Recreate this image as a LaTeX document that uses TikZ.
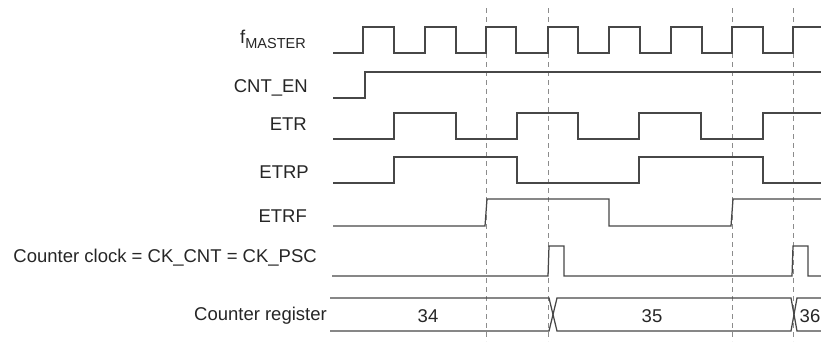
\documentclass[tikz,border=0pt]{standalone}
\usepackage{fontspec}
\setmainfont{Liberation Sans}
\begin{document}
\begin{tikzpicture}[x=1pt,y=-1pt,
  sig/.style={draw=black!72, line width=1.25pt, line join=miter},
  guide/.style={draw=black!45, line width=0.9pt, dash pattern=on 5pt off 4pt},
  lbl/.style={anchor=base east, inner sep=0pt, text=black!85, font=\fontsize{18.5}{22}\selectfont},
  val/.style={anchor=base, inner sep=0pt, text=black!85, font=\fontsize{18.5}{22}\selectfont}]
\useasboundingbox (0,0) rectangle (821,341);
\fill[white] (0,0) rectangle (821,341);
% guide lines
\foreach \gx/\gn in {486/ga,548/gb,732/gc,793/gd} {
  \coordinate (\gn t) at (\gx,8);
  \coordinate (\gn b) at (\gx,341);
  \draw[guide] (\gn t) -- (\gn b);
}
% labels
\node[lbl] (lfm) at (306,43) {f\raisebox{-5pt}{\fontsize{14.5}{15}\selectfont MASTER}};
\node[lbl] (lcnt) at (308,92) {CNT\_EN};
\node[lbl] (letr) at (307,130) {ETR};
\node[lbl] (letrp) at (309,178) {ETRP};
\node[lbl] (letrf) at (307,222) {ETRF};
\node[lbl] (lck) at (317,262) {Counter clock = CK\_CNT = CK\_PSC};
\node[lbl] (lreg) at (327,320) {Counter register};
% f_MASTER
\draw[sig] (333,53) -- (363,53) -- (363,27) -- (394,27) -- (394,53) -- (425,53) -- (425,27) -- (456,27) -- (456,53)
  -- (486,53) -- (486,27) -- (516,27) -- (516,53) -- (548,53) -- (548,27) -- (578,27) -- (578,53)
  -- (609,53) -- (609,27) -- (640,27) -- (640,53) -- (671,53) -- (671,27) -- (702,27) -- (702,53)
  -- (732,53) -- (732,27) -- (763,27) -- (763,53) -- (793,53) -- (793,27) -- (821,27);
% CNT_EN
\draw[sig] (333,98) -- (365,98) -- (365,72) -- (821,72);
% ETR
\draw[sig] (333,139) -- (394,139) -- (394,113) -- (456,113) -- (456,139) -- (517,139) -- (517,113) -- (578,113) -- (578,139)
  -- (639,139) -- (639,113) -- (701,113) -- (701,139) -- (763,139) -- (763,113) -- (821,113);
% ETRP
\draw[sig] (333,183) -- (394,183) -- (394,157) -- (517,157) -- (517,183) -- (639,183) -- (639,157) -- (763,157) -- (763,183) -- (821,183);
% ETRF
\draw[sig] (333,226) -- (485,226) -- (487,199) -- (609,199) -- (609,226) -- (731,226) -- (733,199) -- (821,199);
% Counter clock
\draw[sig] (332,276) -- (548,276) -- (549,246) -- (564,246) -- (564,276) -- (792,276) -- (793,246) -- (808,246) -- (808,276) -- (821,276);
% Counter register
\draw[sig] (330,298) -- (549,298) -- (557,331) -- (791,331) -- (797,298) -- (821,298);
\draw[sig] (330,331) -- (549,331) -- (557,298) -- (791,298) -- (797,331) -- (821,331);
\node[val] (v34) at (428,322) {34};
\node[val] (v35) at (652,322) {35};
\node[val] (v36) at (810,322) {36};
\end{tikzpicture}
\end{document}
